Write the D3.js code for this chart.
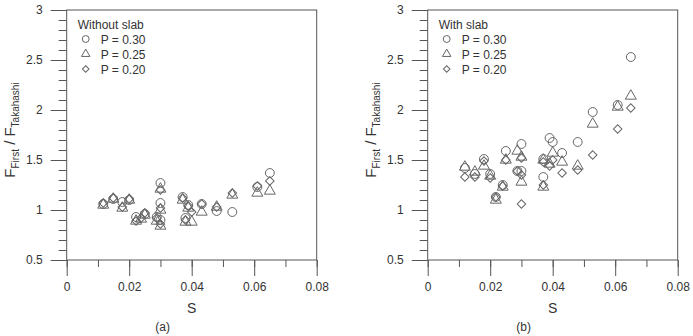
<!DOCTYPE html>
<html>
<head>
<meta charset="utf-8">
<script src="https://cdn.jsdelivr.net/npm/d3@7"></script>
<style>
  body { margin: 0; background: #fff; }
  svg text { font-family: "Liberation Sans", Arial, sans-serif; fill: #333; }
</style>
</head>
<body>
<div id="chart"></div>
<script>
// data: [s, F_First / F_Takahashi]
var noSlab030 = [[0.0117,1.06],[0.0149,1.11],[0.0178,1.08],[0.020,1.10],[0.0222,0.93],[0.025,0.96],[0.0288,0.93],[0.030,1.27],[0.030,1.07],[0.030,0.90],[0.0371,1.13],[0.038,0.92],[0.0389,1.05],[0.0432,1.06],[0.048,0.99],[0.053,0.98],[0.061,1.23],[0.065,1.37]];
var noSlab025 = [[0.0117,1.05],[0.0149,1.11],[0.0178,1.02],[0.020,1.10],[0.0222,0.89],[0.0238,0.91],[0.025,0.95],[0.0288,0.89],[0.030,1.21],[0.030,1.00],[0.030,0.84],[0.0371,1.10],[0.038,0.88],[0.0389,1.02],[0.040,0.88],[0.0432,0.98],[0.048,1.03],[0.053,1.15],[0.061,1.17],[0.065,1.19]];
var noSlab020 = [[0.0117,1.07],[0.0149,1.12],[0.0178,1.03],[0.020,1.11],[0.0222,0.89],[0.0238,0.92],[0.025,0.97],[0.0288,0.92],[0.030,1.20],[0.030,1.02],[0.030,0.86],[0.0371,1.12],[0.038,0.90],[0.0389,1.04],[0.040,0.98],[0.0432,1.06],[0.048,1.03],[0.053,1.17],[0.061,1.24],[0.065,1.29]];

var slab030 = [[0.0119,1.42],[0.0151,1.36],[0.018,1.51],[0.020,1.36],[0.0218,1.13],[0.024,1.25],[0.025,1.59],[0.0287,1.39],[0.030,1.66],[0.030,1.39],[0.037,1.51],[0.037,1.33],[0.039,1.72],[0.040,1.68],[0.043,1.57],[0.048,1.68],[0.0528,1.98],[0.0608,2.05],[0.065,2.53]];
var slab025 = [[0.0119,1.43],[0.0151,1.38],[0.018,1.44],[0.020,1.34],[0.0218,1.10],[0.024,1.23],[0.025,1.50],[0.0287,1.59],[0.030,1.53],[0.030,1.28],[0.037,1.50],[0.037,1.23],[0.039,1.46],[0.040,1.57],[0.043,1.48],[0.048,1.44],[0.0528,1.86],[0.0608,2.03],[0.065,2.14]];
var slab020 = [[0.0119,1.33],[0.0151,1.33],[0.018,1.49],[0.020,1.32],[0.0218,1.13],[0.024,1.24],[0.025,1.50],[0.0287,1.39],[0.030,1.52],[0.030,1.35],[0.030,1.06],[0.037,1.48],[0.037,1.25],[0.039,1.44],[0.040,1.50],[0.043,1.37],[0.048,1.40],[0.0528,1.55],[0.0608,1.81],[0.065,2.02]];

var legendLabels = ["P = 0.30", "P = 0.25", "P = 0.20"];
var xTicks = [0, 0.02, 0.04, 0.06, 0.08];
var yTicks = [0.5, 1, 1.5, 2, 2.5, 3];

var width = 693, height = 336;
var stroke = "#666";

var svg = d3.select("#chart").append("svg")
  .attr("width", width)
  .attr("height", height);

// circle, triangle, square turned 45deg (diamond)
var symbols = [d3.symbolCircle, d3.symbolTriangle, d3.symbolSquare];
var symSizes = [62, 52, 36];
var symRot = [0, 0, 45];

function marker(i, k) {
  return d3.symbol().type(symbols[i]).size(symSizes[i] * (k || 1))();
}

function panel(left, title, series, caption) {
  var x = d3.scaleLinear().domain([0, 0.08]).range([left, left + 250]);
  var y = d3.scaleLinear().domain([0.5, 3]).range([260, 10]);
  var g = svg.append("g");

  // frame
  g.append("rect")
    .attr("x", x(0)).attr("y", y(3))
    .attr("width", x(0.08) - x(0)).attr("height", y(0.5) - y(3))
    .attr("fill", "none").attr("stroke", "#555").attr("stroke-width", 1);

  // x axis, major + minor
  var xAxis = g.append("g").attr("transform", "translate(0," + y(0.5) + ")");
  xAxis.call(d3.axisBottom(x).tickValues(d3.range(0, 0.0801, 0.01)).tickSize(7).tickFormat(""));
  xAxis.select(".domain").remove();
  var xMaj = g.append("g").attr("transform", "translate(0," + y(0.5) + ")")
    .call(d3.axisBottom(x).tickValues(xTicks).tickSize(16).tickPadding(6).tickFormat(d => d === 0 ? "0" : d3.format(".2f")(d)));
  xMaj.select(".domain").remove();

  // y axis, major + minor
  var yAxis = g.append("g").attr("transform", "translate(" + x(0) + ",0)");
  yAxis.call(d3.axisLeft(y).tickValues(d3.range(5, 31).map(d => d / 10)).tickSize(8).tickFormat(""));
  yAxis.select(".domain").remove();
  var yMaj = g.append("g").attr("transform", "translate(" + x(0) + ",0)")
    .call(d3.axisLeft(y).tickValues(yTicks).tickSize(16).tickPadding(8).tickFormat(d => String(d)));
  yMaj.select(".domain").remove();

  g.selectAll(".tick line").attr("stroke", "#555");
  g.selectAll(".tick text").attr("font-size", 12).attr("fill", "#333")
    .attr("font-family", "'Liberation Sans', Arial, sans-serif");

  // axis titles
  g.append("text")
    .attr("x", x(0.04)).attr("y", 313)
    .attr("text-anchor", "middle").attr("font-size", 14)
    .text("S");

  var yl = g.append("text")
    .attr("transform", "translate(" + (left - 52) + ",130) rotate(-90)")
    .attr("text-anchor", "middle").attr("font-size", 15);
  yl.append("tspan").text("F");
  yl.append("tspan").attr("font-size", 10).attr("dy", 4).text("First");
  yl.append("tspan").attr("dy", -4).text(" / F");
  yl.append("tspan").attr("font-size", 10).attr("dy", 4).text("Takahashi");

  g.append("text")
    .attr("x", x(0.04) - 29).attr("y", 331)
    .attr("text-anchor", "middle").attr("font-size", 12)
    .attr("font-family", "'Open Sans', sans-serif")
    .text(caption);

  // points
  series.forEach(function(data, i) {
    g.append("g").selectAll("path")
      .data(data)
      .enter().append("path")
      .attr("d", marker(i))
      .attr("transform", d => "translate(" + x(d[0]) + "," + y(d[1]) + ") rotate(" + symRot[i] + ")")
      .attr("fill", "none")
      .attr("stroke", stroke)
      .attr("stroke-width", 1);
  });

  // legend
  var lg = g.append("g").attr("transform", "translate(" + (left + 11) + ",0)");
  lg.append("text").attr("x", 0).attr("y", 29).attr("font-size", 12).text(title);
  legendLabels.forEach(function(lab, i) {
    var ly = 39 + i * 15;
    lg.append("path")
      .attr("d", marker(i, 0.6))
      .attr("transform", "translate(8," + ly + ") rotate(" + symRot[i] + ")")
      .attr("fill", "none").attr("stroke", stroke);
    lg.append("text").attr("x", 23).attr("y", ly + 4.5).attr("font-size", 12).text(lab);
  });
}

panel(66.7, "Without slab", [noSlab030, noSlab025, noSlab020], "(a)");
panel(427.7, "With slab", [slab030, slab025, slab020], "(b)");
</script>
</body>
</html>
